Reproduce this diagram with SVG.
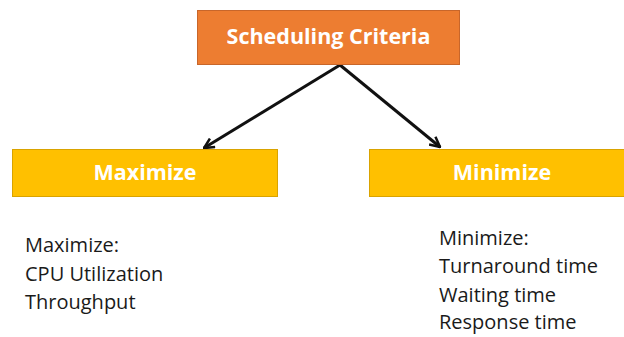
<svg xmlns="http://www.w3.org/2000/svg" width="624" height="337" viewBox="0 0 624 337">
  <defs>
    <style>
      .title { fill: #ED7D31; stroke: #C8662A; stroke-width: 1; }
      .goal { fill: #FFC000; stroke: #D9A300; stroke-width: 1; }
      .head { font-family: "Open Sans", "Liberation Sans", sans-serif; font-weight: bold; font-size: 21.5px; fill: #FFFFFF; text-anchor: middle; }
      .body { font-family: "Open Sans", "Liberation Sans", sans-serif; font-size: 20px; fill: #1A1A1A; }
      .edge { stroke: #111111; stroke-width: 3; fill: none; }
    </style>
    <marker id="arrow" viewBox="0 0 12 12" refX="11" refY="6" markerWidth="12" markerHeight="12" markerUnits="userSpaceOnUse" orient="auto">
      <path d="M1,1 L11,6 L1,11" fill="none" stroke="#111111" stroke-width="2.5"/>
    </marker>
  </defs>
  <rect width="624" height="337" fill="#FFFFFF"/>

  <g id="connectors">
    <line class="edge" x1="340" y1="65" x2="204" y2="148" marker-end="url(#arrow)"/>
    <line class="edge" x1="340" y1="65" x2="440" y2="147" marker-end="url(#arrow)"/>
  </g>

  <g id="scheduling-criteria">
    <rect class="title" x="197.5" y="10.5" width="262" height="54"/>
    <text class="head" x="328.5" y="44">Scheduling Criteria</text>
  </g>

  <g id="maximize">
    <rect class="goal" x="12.5" y="149.5" width="265" height="47"/>
    <text class="head" x="145" y="180">Maximize</text>
  </g>

  <g id="minimize">
    <rect class="goal" x="369.5" y="149.5" width="266" height="47"/>
    <text class="head" x="502" y="180">Minimize</text>
  </g>

  <g id="maximize-list">
    <text class="body" x="25" y="252">Maximize:</text>
    <text class="body" x="25" y="281">CPU Utilization</text>
    <text class="body" x="25" y="309">Throughput</text>
  </g>

  <g id="minimize-list">
    <text class="body" x="439" y="245">Minimize:</text>
    <text class="body" x="439" y="273">Turnaround time</text>
    <text class="body" x="439" y="302">Waiting time</text>
    <text class="body" x="439" y="329">Response time</text>
  </g>
</svg>
